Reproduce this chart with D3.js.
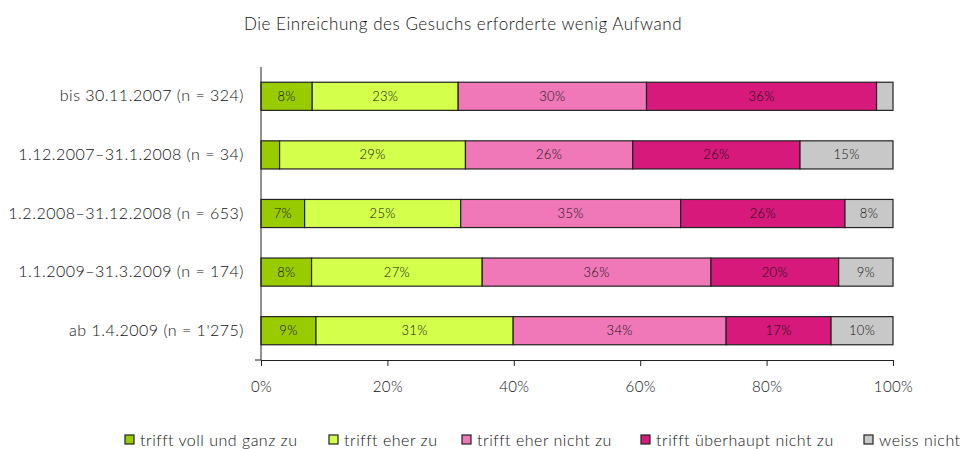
<!DOCTYPE html>
<html>
<head>
<meta charset="utf-8">
<script src="https://cdn.jsdelivr.net/npm/d3@7"></script>
<style>
    body { margin: 0; background: #fff; }
    svg text { font-family: Lato, "Open Sans", sans-serif; font-weight: 300; fill: #111; }
</style>
</head>
<body>
<svg id="chart" width="965" height="449"></svg>
<script>
// Periods (y categories) and answer categories
var periods = [
    'bis 30.11.2007 (n = 324)',
    '1.12.2007\u201331.1.2008 (n = 34)',
    '1.2.2008\u201331.12.2008 (n = 653)',
    '1.1.2009\u201331.3.2009 (n = 174)',
    'ab 1.4.2009 (n = 1\'275)'
];
var answers = ['trifft voll und ganz zu', 'trifft eher zu', 'trifft eher nicht zu', 'trifft überhaupt nicht zu', 'weiss nicht'];

// Shares in percent, one array per answer (in order of periods)
var vollUndGanz   = [8.1, 2.94, 6.9, 8.0, 8.7];
var eher          = [23.1, 29.41, 24.7, 27.0, 31.2];
var eherNicht     = [29.8, 26.47, 34.8, 36.2, 33.7];
var ueberhauptNicht = [36.4, 26.47, 26.0, 20.2, 16.6];
var weissNicht    = [2.6, 14.71, 7.6, 8.6, 9.8];

var xTicks = [0, 20, 40, 60, 80, 100];
var title = 'Die Einreichung des Gesuchs erforderte wenig Aufwand';

var colors = ['#99cc00', '#d4ff4a', '#f078b8', '#d6197a', '#c8c8c8'];

var svg = d3.select('#chart');
var padding = {t: 67, r: 72, b: 89, l: 261};
var svgWidth = +svg.attr('width');
var svgHeight = +svg.attr('height');
var chartWidth = svgWidth - padding.l - padding.r;
var chartHeight = svgHeight - padding.t - padding.b;

// Build rows for stacking
var series = [vollUndGanz, eher, eherNicht, ueberhauptNicht, weissNicht];
var rows = periods.map(function(p, i) {
    var row = {period: p};
    answers.forEach(function(a, j) { row[a] = series[j][i]; });
    return row;
});
var stacked = d3.stack().keys(answers)(rows);

var xScale = d3.scaleLinear().domain([0, 100]).range([0, chartWidth]);
var yScale = d3.scaleBand().domain(periods).range([0, chartHeight])
    .paddingInner(0.52).paddingOuter(0.26);

var chartG = svg.append('g')
    .attr('transform', 'translate(' + [padding.l, padding.t] + ')');

svg.append('text')
    .attr('x', 463)
    .attr('y', 30)
    .attr('text-anchor', 'middle')
    .style('font-size', '17px')
    .style('letter-spacing', '0.55px')
    .text(title);

var layers = chartG.selectAll('.layer')
    .data(stacked)
    .enter()
    .append('g')
    .attr('class', 'layer')
    .attr('fill', function(d, i) { return colors[i]; });

layers.selectAll('rect')
    .data(function(d) { return d; })
    .enter()
    .append('rect')
    .attr('x', function(d) { return xScale(d[0]); })
    .attr('y', function(d) { return yScale(d.data.period); })
    .attr('width', function(d) { return xScale(d[1]) - xScale(d[0]); })
    .attr('height', yScale.bandwidth())
    .attr('stroke', '#222')
    .attr('stroke-width', 1.2);

// Value labels, only where there is room
layers.selectAll('.value')
    .data(function(d) { return d.filter(function(s) { return s[1] - s[0] >= 5; }); })
    .enter()
    .append('text')
    .attr('class', 'value')
    .attr('x', function(d) { return xScale((d[0] + d[1]) / 2); })
    .attr('y', function(d) { return yScale(d.data.period) + yScale.bandwidth() / 2; })
    .attr('dy', '0.35em')
    .attr('text-anchor', 'middle')
    .style('font-size', '13px')
    .style('letter-spacing', '0.3px')
    .text(function(d) { return Math.round(d[1] - d[0]) + '%'; });

// Y axis
var yAxis = chartG.append('g')
    .call(d3.axisLeft(yScale).tickSize(0).tickPadding(17));
yAxis.select('.domain').attr('d', 'M0,0V' + chartHeight + 'H-6').attr('stroke', '#222');
yAxis.selectAll('text')
    .style('font-size', '16px')
    .style('letter-spacing', '0.5px')
    .style('fill', '#111')
    .style('font-family', null);

// X axis
var xAxis = chartG.append('g')
    .attr('transform', 'translate(0,' + chartHeight + ')')
    .call(d3.axisBottom(xScale).tickValues(xTicks).tickSize(6).tickSizeOuter(6).tickPadding(15)
        .tickFormat(function(d) { return d + '%'; }));
xAxis.select('.domain').attr('stroke', '#222');
xAxis.selectAll('line').attr('stroke', '#222');
xAxis.selectAll('text')
    .style('font-size', '15px')
    .style('letter-spacing', '0.4px')
    .style('fill', '#111')
    .style('font-family', null);

// Legend
var legendX = [125, 329, 462, 641, 864];
var legend = svg.append('g')
    .selectAll('g')
    .data(answers)
    .enter()
    .append('g')
    .attr('transform', function(d, i) { return 'translate(' + [legendX[i], 435] + ')'; });

legend.append('rect')
    .attr('width', 9)
    .attr('height', 9)
    .attr('fill', function(d, i) { return colors[i]; })
    .attr('stroke', '#222')
    .attr('stroke-width', 1.2);

legend.append('text')
    .attr('x', 15)
    .attr('y', 5)
    .attr('dy', '0.35em')
    .style('font-size', '16px')
    .style('letter-spacing', '0.5px')
    .text(function(d) { return d; });
</script>
</body>
</html>
